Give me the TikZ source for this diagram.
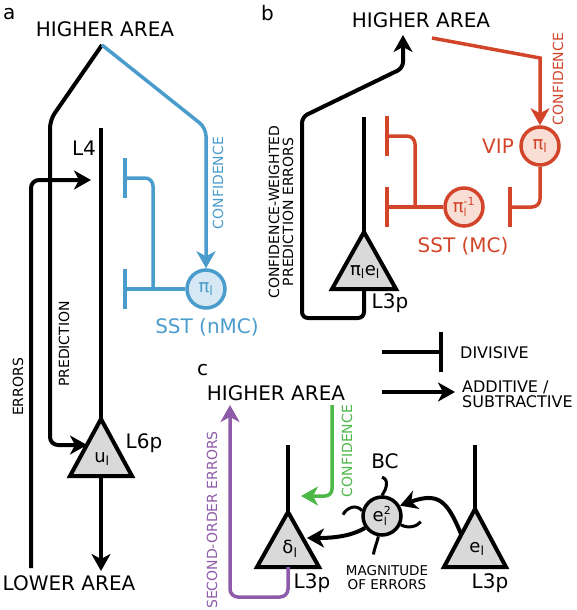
\documentclass[tikz,border=0pt]{standalone}
\usepackage{fontspec}
\setmainfont{DejaVu Sans}
\usetikzlibrary{arrows.meta}
\definecolor{confblue}{HTML}{4A9CCC}
\definecolor{paleblue}{HTML}{D6E8F4}
\definecolor{confred}{HTML}{D3452B}
\definecolor{palered}{HTML}{F9DED6}
\definecolor{confgreen}{HTML}{4DB848}
\definecolor{errpurple}{HTML}{8E5BA8}
\definecolor{somagray}{HTML}{D9D9D9}
\newcommand{\symsubsup}[3]{#1$_{\mbox{\fontsize{11}{11}\selectfont #2}}^{\mbox{\fontsize{11}{11}\selectfont #3}}$}
\begin{document}
\begin{tikzpicture}[x=1pt, y=-1pt,
    >={Stealth[length=17pt, width=19pt, inset=5pt]},
    wire/.style={line width=4pt},
    bwire/.style={line width=3.5pt, draw=confblue},
    rwire/.style={line width=3.5pt, draw=confred},
    binhib/.style={bwire, -{Bar[width=40pt]}},
    rinhib/.style={rwire, -{Bar[width=40pt]}},
    big/.style={inner sep=0pt, font=\fontsize{20}{24}\selectfont},
    small/.style={inner sep=0pt, font=\fontsize{14}{14}\selectfont},
    legend/.style={inner sep=0pt, font=\fontsize{16}{15}\selectfont},
    sym/.style={inner sep=0pt, font=\fontsize{18}{18}\selectfont},
    soma/.style={line width=4pt, fill=somagray},
    cell/.style={circle, line width=3.5pt, minimum size=38pt, inner sep=0pt, font=\fontsize{18}{18}\selectfont},
    dend/.style={line width=3pt},
]
\useasboundingbox (0,0) rectangle (576,610);

% ---------- a ----------
\node[big, anchor=base west] (la) at (3,20) {a};
\node[big, anchor=base] (hia) at (105,37) {HIGHER AREA};
\node[big, anchor=base] (loa) at (69,590) {LOWER AREA};
\coordinate (ha) at (102,45);

\coordinate (l6top) at (101,419);
\coordinate (l6bot) at (101,476);
\draw[soma] (l6top) -- (70,476) -- (132,476) -- cycle;
\node[sym] (ul) at (102,459) {u\textsubscript{l}};
\node[big, anchor=base] (l6p) at (144,448) {L6p};
\node[big, anchor=base] (l4) at (84,155) {L4};
\draw[wire] (101,128) -- (l6top);
\draw[wire, ->] (l6bot) -- (101,571);

\draw[wire, ->, rounded corners=8pt] (31,568) -- (31,180) -- (91,180);
\draw[wire, ->, rounded corners=8pt] (ha) -- (50,120) -- (50,445) -- (87,445);
\node[small, rotate=90] (erra) at (18,387) {ERRORS};
\node[small, rotate=90] (preda) at (64,344) {PREDICTION};

\node[cell, draw=confblue, fill=paleblue, text=confblue] (pia) at (206,289) {π\textsubscript{l}};
\draw[bwire, ->, rounded corners=8pt] (ha) -- (206,128) -- (pia.north);
\node[small, text=confblue, rotate=90] (confa) at (218,183) {CONFIDENCE};
\draw[binhib] (pia.west) -- (123,289);
\draw[binhib, rounded corners=8pt] (153,289) -- (153,178) -- (123,178);
\node[big, text=confblue, anchor=base] (ssta) at (207,333) {SST (nMC)};

% ---------- b ----------
\node[big, anchor=base west] (lb) at (261,21) {b};
\node[big, anchor=base] (hib) at (421,28) {HIGHER AREA};
\coordinate (l3top) at (364,232);
\coordinate (l3bot) at (364,289);
\draw[soma] (l3top) -- (332,289) -- (396,289) -- cycle;
\draw[wire] (364,117) -- (l3top);
\node[sym] (pe) at (365,272) {π\textsubscript{l}e\textsubscript{l}};
\node[big, anchor=base] (l3b) at (390,308) {L3p};
\draw[wire, ->, rounded corners=6pt] (l3bot) -- (364,318) -- (302,318) -- (302,117) -- (403,68) -- (403,35);
\node[small, rotate=90, align=center] (cwpe) at (281,212) {CONFIDENCE-WEIGHTED\\PREDICTION ERRORS};

\node[cell, draw=confred, fill=palered, text=confred] (vip) at (540,146) {π\textsubscript{l}};
\node[big, text=confred, anchor=base] (viplab) at (498,153) {VIP};
\draw[rwire, ->] (432,38) -- (540,58) -- (vip.north);
\node[small, text=confred, rotate=90] (confb) at (558,79) {CONFIDENCE};
\draw[rinhib, rounded corners=8pt] (vip.south) -- (540,207) -- (508,207);
\node[cell, draw=confred, fill=palered, text=confred] (mc) at (464,207) {\symsubsup{π}{l}{-1}};
\draw[rinhib] (mc.west) -- (385,207);
\draw[rinhib, rounded corners=8pt] (415,207) -- (415,136) -- (385,136);
\node[big, text=confred, anchor=base] (sstb) at (463,252) {SST (MC)};

% ---------- legend ----------
\draw[wire, -{Bar[width=40pt]}] (382,352) -- (443,352);
\node[legend, anchor=base west] (div) at (460,358) {DIVISIVE};
\draw[wire, ->] (382,392) -- (455,392);
\node[legend, anchor=west, align=left] (add) at (462,394) {ADDITIVE /\\SUBTRACTIVE};

% ---------- c ----------
\node[big, anchor=base west] (lc) at (197,375) {c};
\node[big, anchor=base] (hic) at (276,400) {HIGHER AREA};
\draw[line width=3.5pt, draw=confgreen, ->, rounded corners=7pt] (332,405) -- (332,496) -- (301,496);
\node[small, text=confgreen, rotate=90] (confc) at (347,451) {CONFIDENCE};

\coordinate (dtop) at (288,512);
\coordinate (dbot) at (288,567);
\draw[soma] (dtop) -- (257,567) -- (319,567) -- cycle;
\draw[wire] (288,445) -- (dtop);
\node[sym] (delta) at (290,549) {δ\textsubscript{l}};
\node[big, anchor=base] (l3c) at (312,588) {L3p};
\draw[line width=3.5pt, draw=errpurple, ->, rounded corners=8pt] (dbot) -- (288,597) -- (230,597) -- (230,405);
\node[small, text=errpurple, rotate=90] (soe) at (212,520) {SECOND-ORDER ERRORS};

\coordinate (etop) at (475,509);
\draw[soma] (etop) -- (444,567) -- (506,567) -- cycle;
\draw[wire] (475,445) -- (etop);
\node[sym] (el) at (477,549) {e\textsubscript{l}};
\node[big, anchor=base] (l3d) at (490,588) {L3p};

\node[cell, draw, fill=somagray] (bc) at (382,516) {\symsubsup{e}{l}{2}};
\node[big, anchor=base] (bclab) at (385,468) {BC};
\draw[dend] (bc.north) .. controls +(5,-7) and +(7,2) .. +(0,-18);
\draw[dend] (bc.165) .. controls +(-6,-7) and +(4,-7) .. +(-19,4);
\draw[dend] (bc.-25) .. controls +(7,4) and +(-4,5) .. +(20,-3);
\draw[dend] (bc.-100) .. controls +(-2,8) and +(1,-6) .. +(-5,18);
\draw[wire, ->] (461,534) .. controls (447,500) and (438,492) .. (bc.30);
\draw[wire, ->] (bc.-145) .. controls (350,537) and (330,538) .. (307,538);
\node[inner sep=0pt, align=center, font=\fontsize{13.5}{14}\selectfont] (mag) at (387,578) {MAGNITUDE\\OF ERRORS};
\end{tikzpicture}
\end{document}
